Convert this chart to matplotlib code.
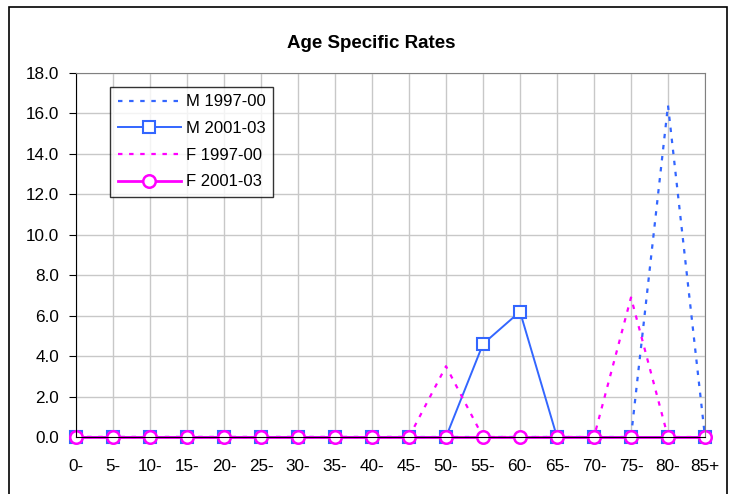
import matplotlib
matplotlib.use("Agg")
import matplotlib.pyplot as plt
from matplotlib.patches import Rectangle

plt.rcParams['font.family'] = ['Liberation Sans', 'DejaVu Sans']

ages = ["0-", "5-", "10-", "15-", "20-", "25-", "30-", "35-", "40-", "45-",
        "50-", "55-", "60-", "65-", "70-", "75-", "80-", "85+"]
m_9700 = [0, 0, 0, 0, 0, 0, 0, 0, 0, 0, 0, 0, 0, 0, 0, 0, 16.4, 0]
m_0103 = [0, 0, 0, 0, 0, 0, 0, 0, 0, 0, 0, 4.6, 6.2, 0, 0, 0, 0, 0]
f_9700 = [0, 0, 0, 0, 0, 0, 0, 0, 0, 0, 3.5, 0, 0, 0, 0, 6.9, 0, 0]
f_0103 = [0] * 18

blue = '#3366FF'
mag = '#FF00FF'

fig = plt.figure(figsize=(7.34, 4.94), dpi=100)
fig.patches.append(Rectangle((9/734, -10/494), 718/734, (494 + 10 - 7)/494, transform=fig.transFigure,
                             fill=False, edgecolor='black', linewidth=1.2))
ax = fig.add_axes([76/734, 1-437/494, (705-76)/734, (437-73)/494])
x = list(range(len(ages)))
ax.plot(x, m_9700, color=blue, linestyle=(0, (2, 3)), linewidth=1.6, label='M 1997-00', clip_on=False)
ax.plot(x, m_0103, color=blue, linestyle='-', linewidth=1.4, marker='s', markersize=8,
        markerfacecolor='white', markeredgecolor=blue, markeredgewidth=1.5, label='M 2001-03', clip_on=False)
ax.plot(x, f_9700, color=mag, linestyle=(0, (2, 3)), linewidth=1.6, label='F 1997-00', clip_on=False)
ax.plot(x, f_0103, color=mag, linestyle='-', linewidth=2, marker='o', markersize=9,
        markerfacecolor='white', markeredgecolor=mag, markeredgewidth=1.8, label='F 2001-03', clip_on=False)

ax.set_xlim(0, 17)
ax.set_ylim(0, 18)
ax.set_xticks(x)
ax.set_xticklabels(ages, fontsize=12.3)
ax.set_yticks([i * 2 for i in range(10)])
ax.set_yticklabels([f"{i*2:.1f}" for i in range(10)], fontsize=12.3)
ax.grid(True, color='#C8C8C8', linewidth=1)
ax.set_axisbelow(True)
for s in ['top', 'right']:
    ax.spines[s].set_color('#808080')
for s in ['left', 'bottom']:
    ax.spines[s].set_color('black')
ax.tick_params(axis='y', direction='out', length=5, color='black', pad=7)
ax.tick_params(axis='x', direction='out', length=0, color='black', pad=16)
fig.text(371/734, 1 - 43/494, 'Age Specific Rates', fontsize=13.5, fontweight='bold',
         ha='center', va='center')

leg = ax.legend(loc='upper left', bbox_to_anchor=((110 - 76)/629, (437 - 87)/364), fontsize=12, frameon=True,
                fancybox=False, edgecolor='black', handlelength=3.8, borderpad=0.45,
                labelspacing=0.7, handletextpad=0.3, borderaxespad=0)
leg.get_frame().set_linewidth(1)

fig.savefig('out.png', dpi=100)
